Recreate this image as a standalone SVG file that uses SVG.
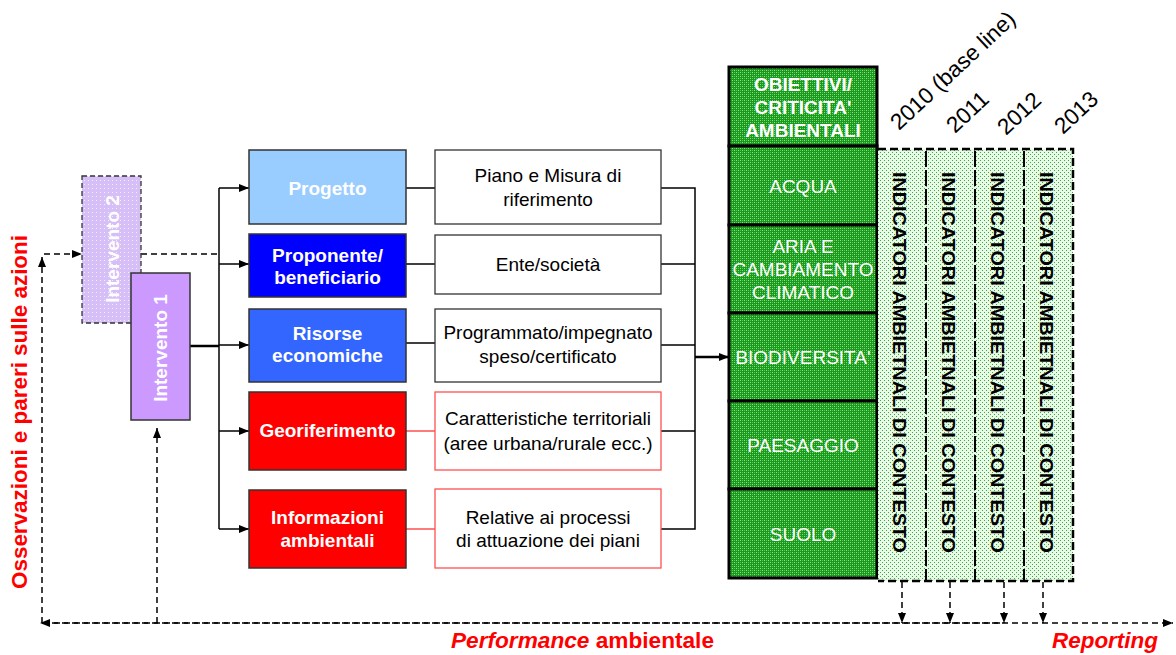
<svg xmlns="http://www.w3.org/2000/svg" width="1176" height="655" viewBox="0 0 1176 655">
<defs>
<style>
text{font-family:"Liberation Sans",Arial,sans-serif;}
.wb{fill:#fff;font-weight:bold;font-size:19px;text-anchor:middle;}
.bk{fill:#000;font-size:19px;text-anchor:middle;}
.gw{fill:#fff;font-size:19px;text-anchor:middle;}
.ind{fill:#000;font-weight:bold;font-size:19px;text-anchor:middle;}
.yr{fill:#000;font-size:22.5px;}
.red{fill:#ff0000;font-weight:bold;font-size:22px;}
.c1{stroke:#333;stroke-width:1.5;}
.c2{fill:#fff;stroke:#333;stroke-width:1.3;}
.c2r{fill:#fff;stroke:#ff5050;stroke-width:1.3;}
.ln{fill:none;stroke:#000;stroke-width:1.5;}
.lnr{fill:none;stroke:#ff5050;stroke-width:1.5;}
.dsh{fill:none;stroke:#000;stroke-width:1.5;stroke-dasharray:6 4;}
.gsec{fill:url(#pDark);stroke:#000;stroke-width:3;}
</style>
<pattern id="pDark" width="4" height="4" patternUnits="userSpaceOnUse">
<rect width="4" height="4" fill="#1a9a1a"/>
<rect x="0" y="0" width="1" height="1" fill="#8ee08e"/>
<rect x="2" y="2" width="1" height="1" fill="#8ee08e"/>
<rect x="2" y="0" width="1" height="1" fill="#5cc45c"/>
<rect x="0" y="2" width="1" height="1" fill="#5cc45c"/>
</pattern>
<pattern id="pLight" width="4" height="4" patternUnits="userSpaceOnUse">
<rect width="4" height="4" fill="#eaf8ea"/>
<rect x="0" y="0" width="1" height="1" fill="#33b033"/>
<rect x="2" y="2" width="1" height="1" fill="#33b033"/>
</pattern>
<pattern id="pLav" width="4" height="4" patternUnits="userSpaceOnUse">
<rect width="4" height="4" fill="#d6bef6"/>
<rect x="0" y="0" width="1" height="1" fill="#f5eefd"/>
</pattern>
<marker id="ah" markerWidth="10" markerHeight="8" refX="10" refY="4" orient="auto" markerUnits="userSpaceOnUse">
<path d="M0,0 L10,4 L0,8 Z" fill="#000"/>
</marker>
</defs>

<rect width="1176" height="655" fill="#fff"/>

<!-- left vertical label -->
<text class="red" transform="translate(27,412) rotate(-90)" text-anchor="middle" textLength="354" lengthAdjust="spacingAndGlyphs">Osservazioni e pareri sulle azioni</text>

<!-- connectors -->
<g id="connectors">
<path class="dsh" d="M42,623 V257" marker-end="url(#ah)"/>
<path class="dsh" d="M44,254 H82" marker-end="url(#ah)"/>
<path class="dsh" d="M141,254 H219"/>
<path class="dsh" d="M42,623 H1173" marker-end="url(#ah)"/>
<path class="dsh" d="M1000,623 H40" marker-end="url(#ah)"/>
<path class="dsh" d="M157,623 V428" marker-end="url(#ah)"/>
<path class="dsh" d="M902,582 V623" marker-end="url(#ah)"/>
<path class="dsh" d="M950,582 V623" marker-end="url(#ah)"/>
<path class="dsh" d="M1004,582 V623" marker-end="url(#ah)"/>
<path class="dsh" d="M1043,582 V623" marker-end="url(#ah)"/>
<path d="M190,346 H219" fill="none" stroke="#000" stroke-width="2.5"/>
<path class="ln" d="M219,188 V529"/>
<path class="ln" d="M219,188 H249" marker-end="url(#ah)"/>
<path class="ln" d="M219,264 H249" marker-end="url(#ah)"/>
<path class="ln" d="M219,345 H249" marker-end="url(#ah)"/>
<path class="ln" d="M219,431 H249" marker-end="url(#ah)"/>
<path class="ln" d="M219,529 H249" marker-end="url(#ah)"/>
<path class="ln" d="M406,188 H435"/>
<path class="ln" d="M406,264 H435"/>
<path class="ln" d="M406,343 H435"/>
<path class="lnr" d="M406,431 H435"/>
<path class="lnr" d="M406,529 H435"/>
<path class="ln" d="M661,188 H695 V529 H661"/>
<path class="ln" d="M661,264 H695"/>
<path class="ln" d="M661,345 H695"/>
<path class="ln" d="M661,431 H695"/>
<path d="M695,357 H729" fill="none" stroke="#000" stroke-width="2.5" marker-end="url(#ah)"/>
</g>

<!-- Intervento 2 -->
<g id="intervento2">
<rect x="82" y="176" width="59" height="147" fill="url(#pLav)" stroke="#333" stroke-width="1.3" stroke-dasharray="5 3"/>
<text class="wb" transform="translate(119,249) rotate(-90)">Intervento 2</text>
</g>

<!-- Intervento 1 -->
<g id="intervento1">
<rect x="131" y="273" width="59" height="147" fill="#cc99ff" stroke="#333" stroke-width="1.5"/>
<text class="wb" transform="translate(167,348) rotate(-90)">Intervento 1</text>
</g>

<!-- column 1 -->
<g id="progetto">
<rect class="c1" x="249" y="150" width="157" height="74" fill="#99ccff"/>
<text class="wb" x="327.5" y="195">Progetto</text>
</g>
<g id="proponente">
<rect class="c1" x="249" y="234" width="157" height="63" fill="#0000ff"/>
<text class="wb" x="327.5" y="262">Proponente/</text>
<text class="wb" x="327.5" y="284">beneficiario</text>
</g>
<g id="risorse">
<rect class="c1" x="249" y="309" width="157" height="73" fill="#3366ff"/>
<text class="wb" x="327.5" y="340">Risorse</text>
<text class="wb" x="327.5" y="362">economiche</text>
</g>
<g id="georiferimento">
<rect class="c1" x="249" y="392" width="157" height="78" fill="#ff0000"/>
<text class="wb" x="327.5" y="437">Georiferimento</text>
</g>
<g id="informazioni">
<rect class="c1" x="249" y="490" width="157" height="78" fill="#ff0000"/>
<text class="wb" x="327.5" y="524">Informazioni</text>
<text class="wb" x="327.5" y="547">ambientali</text>
</g>

<!-- column 2 -->
<g id="piano">
<rect class="c2" x="435" y="150" width="226" height="74"/>
<text class="bk" x="548" y="182">Piano e Misura di</text>
<text class="bk" x="548" y="206">riferimento</text>
</g>
<g id="ente">
<rect class="c2" x="435" y="235" width="226" height="59"/>
<text class="bk" x="548" y="271">Ente/società</text>
</g>
<g id="programmato">
<rect class="c2" x="435" y="309" width="226" height="73"/>
<text class="bk" x="548" y="339">Programmato/impegnato</text>
<text class="bk" x="548" y="363">speso/certificato</text>
</g>
<g id="caratteristiche">
<rect class="c2r" x="435" y="392" width="226" height="78"/>
<text class="bk" x="548" y="425">Caratteristiche territoriali</text>
<text class="bk" x="548" y="450">(aree urbana/rurale ecc.)</text>
</g>
<g id="relative">
<rect class="c2r" x="435" y="489" width="226" height="79"/>
<text class="bk" x="548" y="524">Relative ai processi</text>
<text class="bk" x="548" y="547">di attuazione dei piani</text>
</g>

<!-- green column -->
<g id="obiettivi">
<rect class="gsec" x="729" y="67" width="148" height="79"/>
<text class="wb" x="803" y="91">OBIETTIVI/</text>
<text class="wb" x="803" y="114">CRITICITA'</text>
<text class="wb" x="803" y="137">AMBIENTALI</text>
</g>
<g id="acqua">
<rect class="gsec" x="729" y="146" width="148" height="79"/>
<text class="gw" x="803" y="193">ACQUA</text>
</g>
<g id="aria">
<rect class="gsec" x="729" y="225" width="148" height="88"/>
<text class="gw" x="803" y="253">ARIA E</text>
<text class="gw" x="803" y="276">CAMBIAMENTO</text>
<text class="gw" x="803" y="299">CLIMATICO</text>
</g>
<g id="biodiversita">
<rect class="gsec" x="729" y="313" width="148" height="88"/>
<text class="gw" x="803" y="364">BIODIVERSITA'</text>
</g>
<g id="paesaggio">
<rect class="gsec" x="729" y="401" width="148" height="88"/>
<text class="gw" x="803" y="452">PAESAGGIO</text>
</g>
<g id="suolo">
<rect class="gsec" x="729" y="489" width="148" height="89"/>
<text class="gw" x="803" y="541">SUOLO</text>
</g>

<!-- indicators -->
<g id="indicatori">
<rect x="878" y="149" width="195" height="432" fill="url(#pLight)"/>
<path d="M878,149 H1073 V581 H878" fill="none" stroke="#000" stroke-width="2.5" stroke-dasharray="8 4"/>
<path d="M926,151 V580 M975,151 V580 M1024,151 V580" fill="none" stroke="#000" stroke-width="2" stroke-dasharray="16 3"/>
<text class="ind" transform="translate(893,362.5) rotate(90)" textLength="381" lengthAdjust="spacingAndGlyphs">INDICATORI AMBIETNALI DI CONTESTO</text>
<text class="ind" transform="translate(942,362.5) rotate(90)" textLength="381" lengthAdjust="spacingAndGlyphs">INDICATORI AMBIETNALI DI CONTESTO</text>
<text class="ind" transform="translate(991,362.5) rotate(90)" textLength="381" lengthAdjust="spacingAndGlyphs">INDICATORI AMBIETNALI DI CONTESTO</text>
<text class="ind" transform="translate(1040,362.5) rotate(90)" textLength="381" lengthAdjust="spacingAndGlyphs">INDICATORI AMBIETNALI DI CONTESTO</text>
</g>

<!-- years -->
<g id="years">
<text class="yr" transform="translate(899,131) rotate(-43)">2010 (base line)</text>
<text class="yr" transform="translate(955,134) rotate(-43)">2011</text>
<text class="yr" transform="translate(1006,136) rotate(-43)">2012</text>
<text class="yr" transform="translate(1063,135) rotate(-43)">2013</text>
</g>

<!-- bottom labels -->
<text class="red" x="451" y="648" textLength="263" lengthAdjust="spacingAndGlyphs"><tspan font-style="italic">Performance</tspan> ambientale</text>
<text class="red" x="1052" y="648" font-style="italic" textLength="106" lengthAdjust="spacingAndGlyphs">Reporting</text>
</svg>
